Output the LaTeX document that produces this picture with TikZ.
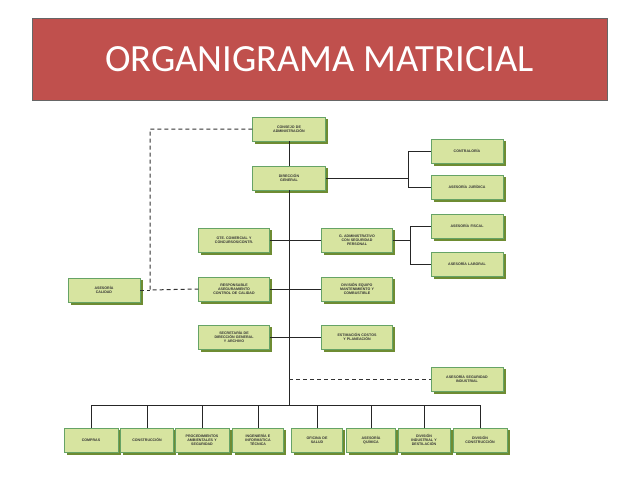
\documentclass[tikz,border=0pt]{standalone}
\usepackage{fontspec}
\setmainfont{Liberation Sans}
\newfontfamily\titlefont{Carlito}
\begin{document}
\begin{tikzpicture}[x=1pt,y=-1pt,
 bx/.style={draw=green!40!black!60, line width=0.4pt, fill={rgb,255:red,215;green,228;blue,160},
   minimum height=24pt, align=center, font=\fontsize{3.6}{4.2}\selectfont\bfseries, text=black!80,
   inner sep=1pt},
 sh/.style={fill={rgb,255:red,110;green,140;blue,50}},
 ln/.style={draw=black!85, line width=1pt},
 dl/.style={draw=black!80, line width=1pt, dash pattern=on 4pt off 3pt}]
\useasboundingbox (0,0) rectangle (638,479);
\node[draw=black!60, fill={rgb,255:red,192;green,80;blue,77}, minimum width=575pt, minimum height=82pt,
  text=white, font=\titlefont\fontsize{38.5}{42}\selectfont] (title) at (319.5,59) {ORGANIGRAMA MATRICIAL};
\newcommand{\bxn}[5]{% name, x, y, width, text
  \fill[sh] (#2-#4/2+2.5,#3-10) rectangle (#2+#4/2+2.5,#3+14.5);
  \node[bx, minimum width=#4 pt, text width=#4 pt - 4pt] (#1) at (#2,#3) {#5};}
\bxn{cons}{289}{129}{73}{CONSEJO DE\\ADMINISTRACIÓN}
\bxn{dir}{289}{178}{73}{DIRECCIÓN\\GENERAL}
\bxn{contr}{467}{151}{72}{CONTRALORÍA}
\bxn{jur}{467}{187}{72}{ASESORÍA JURÍDICA}
\bxn{fis}{467}{226}{72}{ASESORÍA FISCAL}
\bxn{lab}{467}{264}{72}{ASESORÍA LABORAL}
\bxn{com}{234}{240}{71}{GTE. COMERCIAL Y\\CONCURSOS/CONTR.}
\bxn{adm}{357}{240}{71}{G. ADMINISTRATIVO\\CON SEGURIDAD\\PERSONAL}
\bxn{resp}{234}{289}{71}{RESPONSABLE\\ASEGURAMIENTO\\CONTROL DE CALIDAD}
\bxn{equ}{357}{289}{71}{DIVISIÓN EQUIPO\\MANTENIMIENTO Y\\COMBUSTIBLE}
\bxn{sec}{234}{337}{71}{SECRETARÍA DE\\DIRECCIÓN GENERAL\\Y ARCHIVO}
\bxn{est}{357}{337}{71}{ESTIMACIÓN COSTOS\\Y PLANEACIÓN}
\bxn{cal}{104}{290}{72}{ASESORÍA\\CALIDAD}
\bxn{seg}{467}{379}{72}{ASESORÍA SEGURIDAD\\INDUSTRIAL}
\bxn{b1}{91}{440}{54}{COMPRAS}
\bxn{b2}{147}{440}{53}{CONSTRUCCIÓN}
\bxn{b3}{202}{440}{54}{PROCEDIMIENTOS\\AMBIENTALES Y\\SEGURIDAD}
\bxn{b4}{258}{440}{51}{INGENIERÍA E\\INFORMÁTICA\\TÉCNICA}
\bxn{b5}{317}{440}{51}{OFICINA DE\\SALUD}
\bxn{b6}{371}{440}{49}{ASESORÍA\\QUÍMICA}
\bxn{b7}{424}{440}{52}{DIVISIÓN\\INDUSTRIAL Y\\DESTILACIÓN}
\bxn{b8}{480}{440}{54}{DIVISIÓN\\CONSTRUCCIÓN}
\coordinate (bus) at (289,405);
\coordinate (tseg) at (289,379);
\coordinate (dk) at (150,129);
\coordinate (dc) at (150,290);
\draw[ln] (cons.south) -- (dir.north);
\draw[ln] (dir.south) -- (bus);
\draw[ln] (dir.east) -- (408,178) (408,151) -- (408,187);
\draw[ln] (408,151) -- (contr.west);
\draw[ln] (408,187) -- (jur.west);
\draw[ln] (com.east) -- (adm.west);
\draw[ln] (resp.east) -- (equ.west);
\draw[ln] (sec.east) -- (est.west);
\draw[ln] (adm.east) -- (410,240) (410,226) -- (410,264);
\draw[ln] (410,226) -- (fis.west);
\draw[ln] (410,264) -- (lab.west);
\draw[ln] (91,405) -- (480,405);
\foreach \b in {b1,b2,b3,b4,b5,b6,b7,b8} \draw[ln] (\b.north |- bus) -- (\b.north);
\draw[dl] (cons.west) -- (dk) -- (dc) -- (resp.west);
\draw[dl] (cal.east) -- (dc);
\draw[dl] (tseg) -- (seg.west);
\end{tikzpicture}
\end{document}
